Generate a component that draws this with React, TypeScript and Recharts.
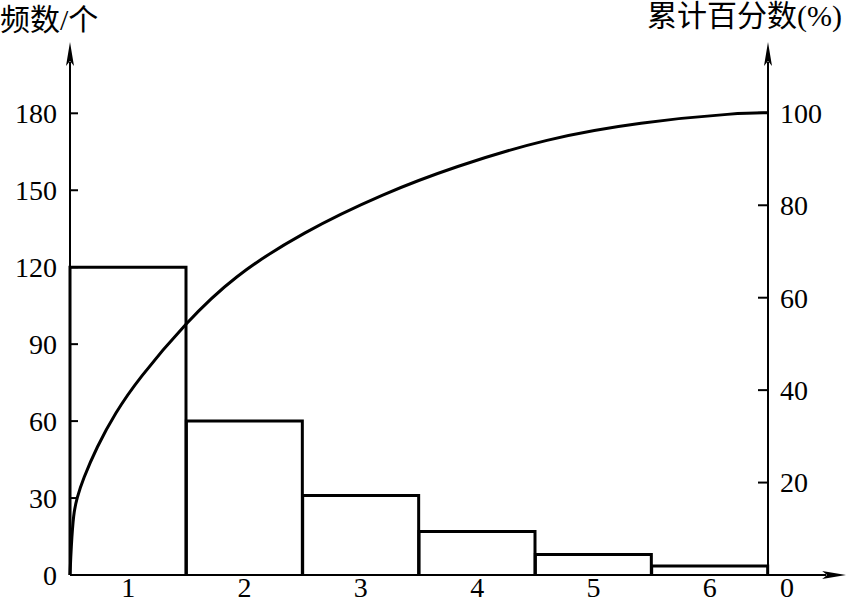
import React from "react";
import { ComposedChart, Bar, Line, XAxis, YAxis, ReferenceLine } from "recharts";

const FONT = "'Liberation Serif', 'Noto Sans CJK SC', serif";

// bars (frequency)
const categories = ["1", "2", "3", "4", "5", "6"];
const counts = [120, 60, 31, 17, 8, 3.5];
const leftTicks = [0, 30, 60, 90, 120, 150, 180];
const rightTicks = [0, 20, 40, 60, 80, 100];

// cumulative percentage curve (x in bar units 0..6)
const curveX = [0, 0.01, 0.03, 0.06, 0.11, 0.23, 0.39, 0.58, 1.0, 1.4, 2.0, 2.7, 3.3, 4.1, 4.9, 5.75, 6.0];
const curvePct = [0, 6, 13.4, 16.7, 20.6, 27.7, 35.1, 42.2, 54.7, 64.5, 74.2, 82.6, 88.3, 94.5, 98, 100, 100];

const barData = categories.map((c, i) => ({ cat: c, count: counts[i] }));
const curveData = curveX.map((u, i) => ({ u, pct: curvePct[i] }));

const OpenBar = (props: any) => {
  const { x, y, width, height } = props;
  return (
    <path
      d={`M${x},${y + height} L${x},${y} L${x + width},${y} L${x + width},${y + height}`}
      fill="none"
      stroke="#000"
      strokeWidth={3}
    />
  );
};

const LeftTick = (props: any) => {
  const { x, y, payload } = props;
  return (
    <g>
      <line x1={x + 13} y1={y} x2={x + 21} y2={y} stroke="#000" strokeWidth={2} />
      <text x={x} y={y} dy="0.35em" textAnchor="end" fontSize={28} fontFamily={FONT} fill="#000">
        {payload.value}
      </text>
    </g>
  );
};

const RightTick = (props: any) => {
  const { x, y, payload } = props;
  const zero = payload.value === 0;
  return (
    <g>
      {!zero && <line x1={x - 12} y1={y} x2={x - 22} y2={y} stroke="#000" strokeWidth={2} />}
      <text x={x} y={y} dy={zero ? "0.78em" : "0.35em"} textAnchor="start" fontSize={28} fontFamily={FONT} fill="#000">
        {payload.value}
      </text>
    </g>
  );
};

const LeftTitle = (props: any) => {
  const vb = props.viewBox || { x: 0, y: 62 };
  return (
    <text x={vb.x} y={vb.y - 32} fontSize={30} fontFamily={FONT} fill="#000">
      频数/个
    </text>
  );
};

const RightTitle = (props: any) => {
  const vb = props.viewBox || { x: 768, y: 62, width: 80 };
  return (
    <text x={vb.x + vb.width - 6} y={vb.y - 36} textAnchor="end" fontSize={30} fontFamily={FONT} fill="#000">
      累计百分数(%)
    </text>
  );
};

export default function App() {
  return (
    <div style={{ position: "absolute", left: 0, top: 0, background: "#fff" }}>
      <ComposedChart
        width={848}
        height={602}
        data={barData}
        barCategoryGap={0}
        margin={{ top: 62, right: 0, bottom: 0, left: 0 }}
      >
        <defs>
          <marker
            id="arrowHead"
            viewBox="0 0 24 8"
            markerWidth={24}
            markerHeight={8}
            refX={4}
            refY={4}
            orient="auto-start-reverse"
            markerUnits="userSpaceOnUse"
          >
            <path d="M0,0 L24,4 L0,8 L5,4 Z" fill="#000" />
          </marker>
        </defs>
        <XAxis
          xAxisId="cat"
          dataKey="cat"
          interval={0}
          height={27}
          tickSize={0}
          tickMargin={2}
          tickLine={false}
          axisLine={{ stroke: "#000", strokeWidth: 2 }}
          tick={{ fill: "#000", fontSize: 28, fontFamily: FONT }}
        />
        <XAxis xAxisId="num" type="number" dataKey="u" domain={[0, 6]} hide />
        <YAxis
          yAxisId="left"
          domain={[0, 200]}
          ticks={leftTicks}
          width={70}
          tickSize={0}
          tickMargin={13}
          tickLine={false}
          axisLine={{ stroke: "#000", strokeWidth: 2, markerStart: "url(#arrowHead)" }}
          tick={<LeftTick />}
          label={{ content: LeftTitle }}
        />
        <YAxis
          yAxisId="right"
          orientation="right"
          domain={[0, 111]}
          ticks={rightTicks}
          width={80}
          tickSize={0}
          tickMargin={12}
          tickLine={false}
          axisLine={{ stroke: "#000", strokeWidth: 2, markerStart: "url(#arrowHead)" }}
          tick={<RightTick />}
          label={{ content: RightTitle }}
        />
        <ReferenceLine
          xAxisId="num"
          yAxisId="left"
          segment={[{ x: 0, y: 0 }, { x: 6.5, y: 0 }]}
          stroke="#000"
          strokeWidth={2}
          ifOverflow="visible"
          markerEnd="url(#arrowHead)"
        />
        <Bar xAxisId="cat" yAxisId="left" dataKey="count" shape={<OpenBar />} isAnimationActive={false} />
        <Line
          xAxisId="num"
          yAxisId="right"
          data={curveData}
          dataKey="pct"
          type="basis"
          dot={false}
          stroke="#000"
          strokeWidth={3}
          isAnimationActive={false}
        />
      </ComposedChart>
    </div>
  );
}
